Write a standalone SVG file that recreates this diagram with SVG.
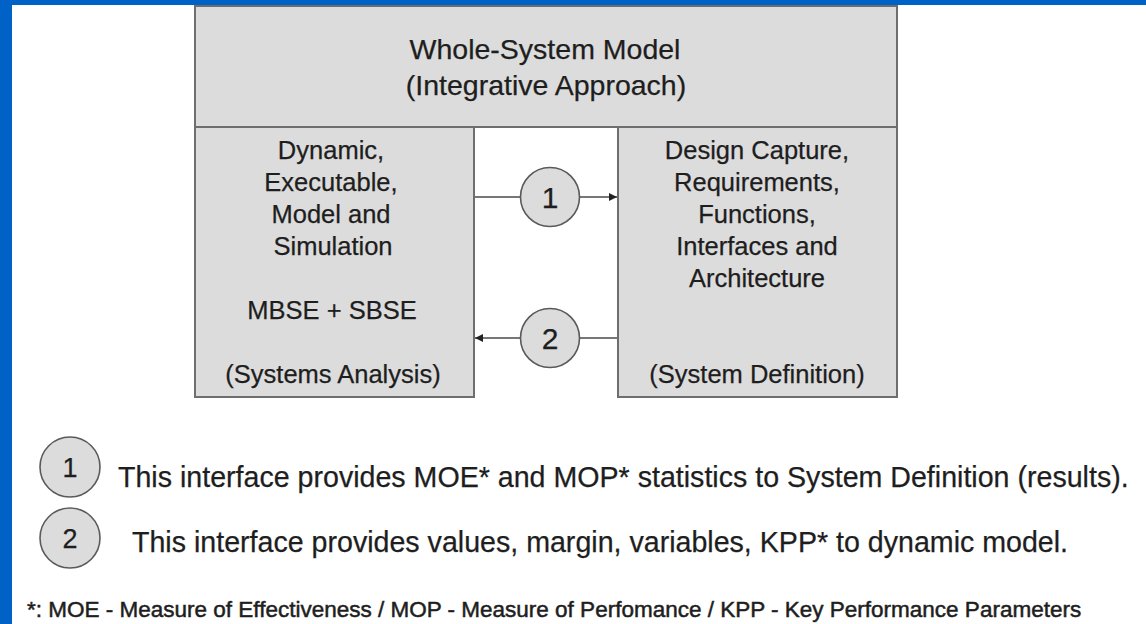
<svg xmlns="http://www.w3.org/2000/svg" width="1146" height="624" viewBox="0 0 1146 624">
  <defs>
    <style>
      .box { fill: #dcdcdc; stroke: #6e6e6e; stroke-width: 2; }
      .circ { fill: #dcdcdc; stroke: #5a5a5a; stroke-width: 1.6; }
      .t { font-family: "Liberation Sans", Arial, sans-serif; fill: #1e1e1e; stroke: #1e1e1e; stroke-width: 0.25; }
      .title { font-size: 28.5px; text-anchor: middle; }
      .bt { font-size: 25.5px; text-anchor: middle; }
      .num { font-size: 30px; text-anchor: middle; }
      .lnum { font-size: 27px; text-anchor: middle; }
      .leg { font-size: 28.6px; }
      .foot { font-size: 22.5px; stroke-width: 0.5; }
      .conn { stroke: #4a4a4a; stroke-width: 1.5; fill: none; }
    </style>
    <marker id="ah" viewBox="0 0 10 10" refX="10" refY="5" markerWidth="10" markerHeight="8" markerUnits="userSpaceOnUse" orient="auto">
      <path d="M0,0 L10,5 L0,10 z" fill="#222"/>
    </marker>
  </defs>

  <rect x="0" y="0" width="1146" height="624" fill="#ffffff"/>
  <rect x="0" y="0" width="1146" height="5" fill="#0062c6"/>
  <rect x="0" y="0" width="12" height="624" fill="#0062c6"/>

  <g id="whole-system">
    <rect class="box" x="195" y="6" width="702" height="121"/>
    <text class="t title" x="545" y="59">Whole-System Model</text>
    <text class="t title" x="546" y="95">(Integrative Approach)</text>
  </g>

  <g id="systems-analysis">
    <rect class="box" x="195" y="127" width="279" height="270"/>
    <text class="t bt" x="331" y="159">Dynamic,</text>
    <text class="t bt" x="331" y="191">Executable,</text>
    <text class="t bt" x="331" y="223">Model and</text>
    <text class="t bt" x="333" y="255">Simulation</text>
    <text class="t bt" x="332" y="319">MBSE + SBSE</text>
    <text class="t bt" x="333" y="383">(Systems Analysis)</text>
  </g>

  <g id="system-definition">
    <rect class="box" x="618" y="127" width="279" height="270"/>
    <text class="t bt" x="757" y="159">Design Capture,</text>
    <text class="t bt" x="757" y="191">Requirements,</text>
    <text class="t bt" x="757" y="223">Functions,</text>
    <text class="t bt" x="757" y="255">Interfaces and</text>
    <text class="t bt" x="757" y="287">Architecture</text>
    <text class="t bt" x="757" y="383">(System Definition)</text>
  </g>

  <g id="connectors">
    <line class="conn" x1="475" y1="197" x2="520.5" y2="197"/>
    <line class="conn" x1="579.5" y1="197" x2="617" y2="197" marker-end="url(#ah)"/>
    <line class="conn" x1="617" y1="338" x2="579.5" y2="338"/>
    <line class="conn" x1="520.5" y1="338" x2="475" y2="338" marker-end="url(#ah)"/>
  </g>

  <g id="interface-1">
    <circle class="circ" cx="550" cy="197" r="29.5"/>
    <text class="t num" x="550" y="207.5">1</text>
  </g>

  <g id="interface-2">
    <circle class="circ" cx="550" cy="338" r="29.5"/>
    <text class="t num" x="550" y="348.5">2</text>
  </g>

  <g id="legend-1">
    <circle class="circ" cx="70" cy="467" r="30"/>
    <text class="t lnum" x="70" y="477">1</text>
    <text class="t leg" x="118" y="487">This interface provides MOE* and MOP* statistics to System Definition (results).</text>
  </g>

  <g id="legend-2">
    <circle class="circ" cx="70" cy="538" r="30"/>
    <text class="t lnum" x="70" y="548">2</text>
    <text class="t leg" x="132" y="552">This interface provides values, margin, variables, KPP* to dynamic model.</text>
  </g>

  <g id="footnote">
    <text class="t foot" x="27" y="617">*: MOE - Measure of Effectiveness / MOP - Measure of Perfomance / KPP - Key Performance Parameters</text>
  </g>
</svg>
